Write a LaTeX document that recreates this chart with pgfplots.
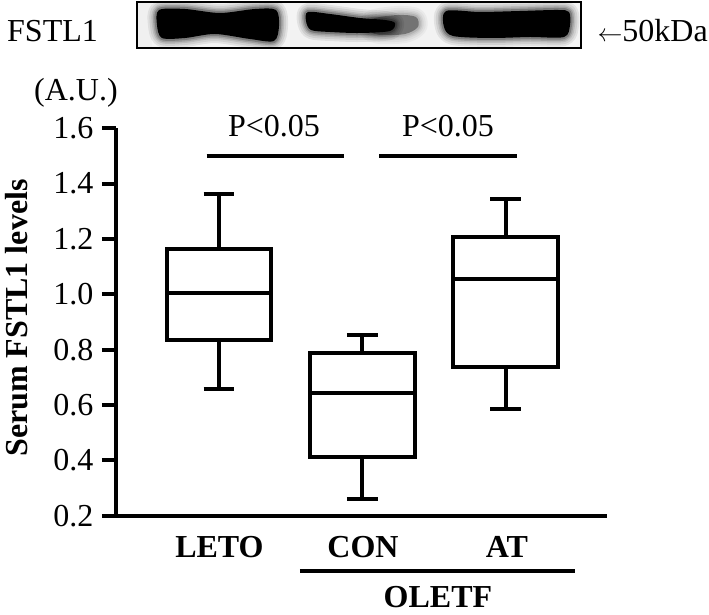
\documentclass[border=0pt]{standalone}
\usepackage{fontspec}
\setmainfont{Liberation Serif}
\usepackage{pgfplots}
\pgfplotsset{compat=1.18}
\usepgfplotslibrary{statistics}
\newcommand{\fs}{\fontsize{32}{38}\selectfont}
\newcommand{\blurband}[2][black]{%
  \draw[#1,line width=18pt,opacity=0.07,line join=round] #2;
  \draw[#1,line width=14pt,opacity=0.08,line join=round] #2;
  \draw[#1,line width=10pt,opacity=0.10,line join=round] #2;
  \draw[#1,line width=7pt,opacity=0.14,line join=round] #2;
  \draw[#1,line width=4pt,opacity=0.22,line join=round] #2;
  \fill[#1] #2;}
\begin{document}
\begin{tikzpicture}
\useasboundingbox (-116pt,-99.3pt) rectangle (593pt,515.7pt);
\begin{axis}[
  at={(0pt,0pt)}, anchor=south west,
  scale only axis, width=491pt, height=387.4pt,
  xmin=0.281, xmax=3.708, ymin=0.2, ymax=1.6,
  axis x line*=bottom, axis y line*=left,
  axis line style={-, line width=4pt, black},
  clip=false,
  xtick=\empty,
  ytick={0.2,0.4,0.6,0.8,1.0,1.2,1.4,1.6},
  tick style={line width=4pt, black},
  tick align=outside, major tick length=14pt,
  ticklabel style={font=\fs},
  yticklabel style={xshift=-5pt, /pgf/number format/.cd, fixed, fixed zerofill, precision=1, assume math mode=true},
  ylabel={Serum FSTL1 levels},
  every axis y label/.style={at={(axis description cs:-0.2016,0.51)}, rotate=90, anchor=center, font=\bfseries\fs},
  boxplot/draw direction=y,
]
\addplot[black, line width=4pt, solid, mark=none, boxplot prepared={lower whisker=0.657, lower quartile=0.835, median=1.003, upper quartile=1.163, upper whisker=1.363, draw position=1, box extend=0.73, whisker extend=0.216}] coordinates {};
\addplot[black, line width=4pt, solid, mark=none, boxplot prepared={lower whisker=0.260, lower quartile=0.413, median=0.642, upper quartile=0.789, upper whisker=0.853, draw position=2, box extend=0.73, whisker extend=0.216}] coordinates {};
\addplot[black, line width=4pt, solid, mark=none, boxplot prepared={lower whisker=0.585, lower quartile=0.739, median=1.054, upper quartile=1.206, upper whisker=1.345, draw position=3, box extend=0.73, whisker extend=0.216}] coordinates {};
% significance bars
\addplot[black, line width=4pt, mark=none] coordinates {(0.914,1.50) (1.872,1.50)};
\addplot[black, line width=4pt, mark=none] coordinates {(2.119,1.50) (3.077,1.50)};
\node[anchor=base, font=\fs] at (axis cs:1.384,1.57) {P<0.05};
\node[anchor=base, font=\fs] at (axis cs:2.598,1.57) {P<0.05};
% category labels
\node[anchor=base, font=\bfseries\fs] at (axis cs:1.003,0.0507) {LETO};
\node[anchor=base, font=\bfseries\fs] at (axis cs:2.005,0.0507) {CON};
\node[anchor=base, font=\bfseries\fs] at (axis cs:3.010,0.0507) {AT};
% OLETF group
\addplot[black, line width=4pt, mark=none] coordinates {(1.565,0.0) (3.484,0.0)};
\node[anchor=base, font=\bfseries\fs] at (axis cs:2.528,-0.130) {OLETF};
\end{axis}
\begin{scope}[x=1pt, y=-1pt, shift={(-116pt,515.7pt)}]
  \node[anchor=base, font=\fs] at (76,101) {(A.U.)};
  \node[anchor=base west, font=\fs, inner sep=0pt] at (7,42) {FSTL1};
  \node[anchor=base east, font=\fs, inner sep=0pt] at (708,42) {$\leftarrow$50kDa};
  % blot
  \fill[gray!9] (137,2) rectangle (581,48);
  \begin{scope}
    \clip (137,2) rectangle (581,48);
    \fill[gray!12] (137,2) rectangle (152,48);
    \fill[gray!10] (290,30) rectangle (440,48);
    \blurband{plot[smooth cycle] coordinates {(159,10) (185,9) (220,13) (255,9) (276,10) (279,26) (274,41) (250,39) (215,34) (185,38) (162,38) (157,25)}}
    \blurband[black!55]{plot[smooth cycle] coordinates {(372,19) (398,15) (416,17) (418,27) (405,34) (380,35) (368,30)}}
    \blurband{plot[smooth cycle] coordinates {(308,12) (330,14) (360,18) (385,20) (395,23) (390,31) (360,33) (330,32) (311,30) (306,21)}}
    \blurband{plot[smooth cycle] coordinates {(446,11) (480,12) (520,11) (558,10) (569,12) (570,25) (564,37) (530,37) (490,38) (453,36) (444,27)}}
  \end{scope}
  \draw[black, line width=1.6pt] (137,2) rectangle (581,48);
\end{scope}
\end{tikzpicture}
\end{document}
